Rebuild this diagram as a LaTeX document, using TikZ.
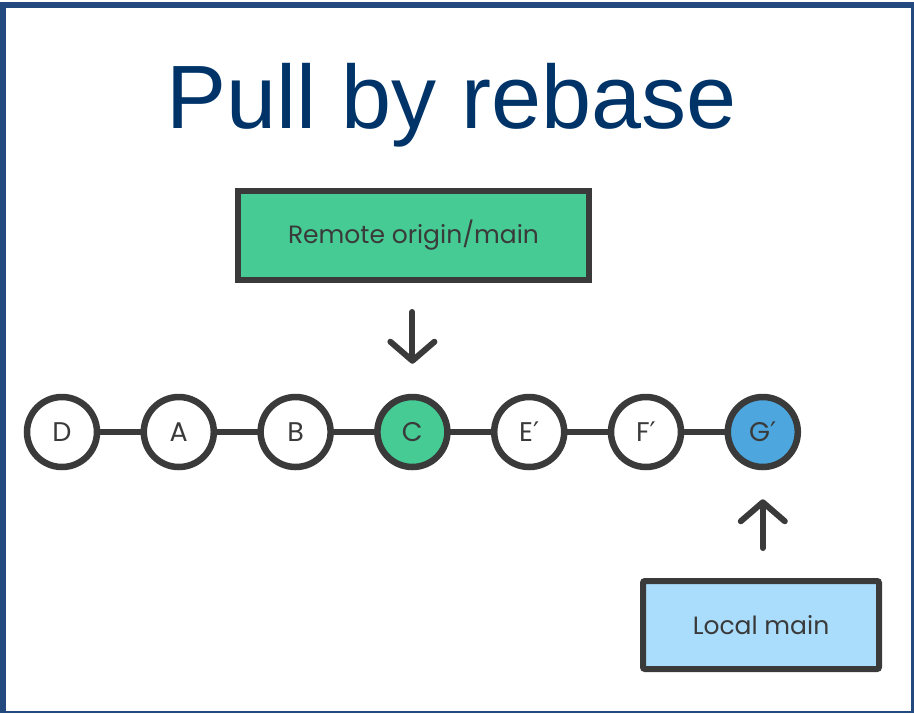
\documentclass[tikz,border=0pt]{standalone}
\usepackage{fontspec}
\setmainfont{Liberation Sans}
\newfontfamily\labelfont{Poppins}
\newfontfamily\primefont{DejaVu Sans}
\usetikzlibrary{arrows.meta,calc}

\definecolor{framecol}{HTML}{24497F}
\definecolor{titlecol}{HTML}{003468}
\definecolor{ink}{HTML}{3A3A3A}
\definecolor{remotegreen}{HTML}{45CB93}
\definecolor{localblue}{HTML}{A9DDFB}
\definecolor{headblue}{HTML}{4DA6DE}

\newcommand{\pr}{{\primefont\char"2032}}

\tikzset{
  commit/.style={circle, draw=ink, line width=6.5pt, fill=white,
    minimum size=70pt, inner sep=0pt, text=ink,
    font=\labelfont\fontsize{27}{30}\selectfont},
  branchbox/.style={rectangle, draw=ink, line width=6pt, inner sep=0pt,
    text=ink, font=\labelfont\fontsize{25}{28}\selectfont},
  link/.style={draw=ink, line width=6.5pt},
  pointer/.style={draw=ink, line width=6pt, line cap=round,
    -{Straight Barb[length=19pt,width=44pt,line cap=round,line join=round]}}
}

\begin{document}
\begin{tikzpicture}[x=1pt,y=-1pt]
  \useasboundingbox (0,0) rectangle (914,713);
  \fill[white] (0,0) rectangle (914,713);

  % slide frame
  \fill[framecol] (0,2) rectangle (914,8);
  \fill[framecol] (0,2) rectangle (6,713);
  \fill[framecol] (911,2) rectangle (914,713);
  \fill[framecol] (0,711) rectangle (914,713);

  % title
  \node[anchor=base, text=titlecol, inner sep=0pt,
        font=\fontsize{90}{100}\selectfont] (title) at (452,128) {Pull by rebase};

  % branch labels
  \node[branchbox, fill=remotegreen, minimum width=351pt, minimum height=89pt]
    (remote) at (413.5,235.5) {Remote origin/main};
  \node[branchbox, fill=localblue, minimum width=236pt, minimum height=88pt,
        rounded corners=2pt]
    (local) at (761,625) {Local main};

  % commit chain
  \path[link] (62,432) -- (763,432);
  \node[commit] (D) at (62,432) {D};
  \node[commit] (A) at (178.8,432) {A};
  \node[commit] (B) at (295.6,432) {B};
  \node[commit, fill=remotegreen] (C) at (412.4,432) {C};
  \node[commit] (E) at (529.2,432) {E\pr};
  \node[commit] (F) at (646,432) {F\pr};
  \node[commit, fill=headblue] (G) at (762.8,432) {G\pr};

  % pointers
  \draw[pointer] ([yshift=-29pt]remote.south -| C.center) -- ([yshift=30pt]C.north);
  \draw[pointer] ([yshift=30pt]local.north -| G.center) -- ([yshift=-29pt]G.south);
\end{tikzpicture}
\end{document}
